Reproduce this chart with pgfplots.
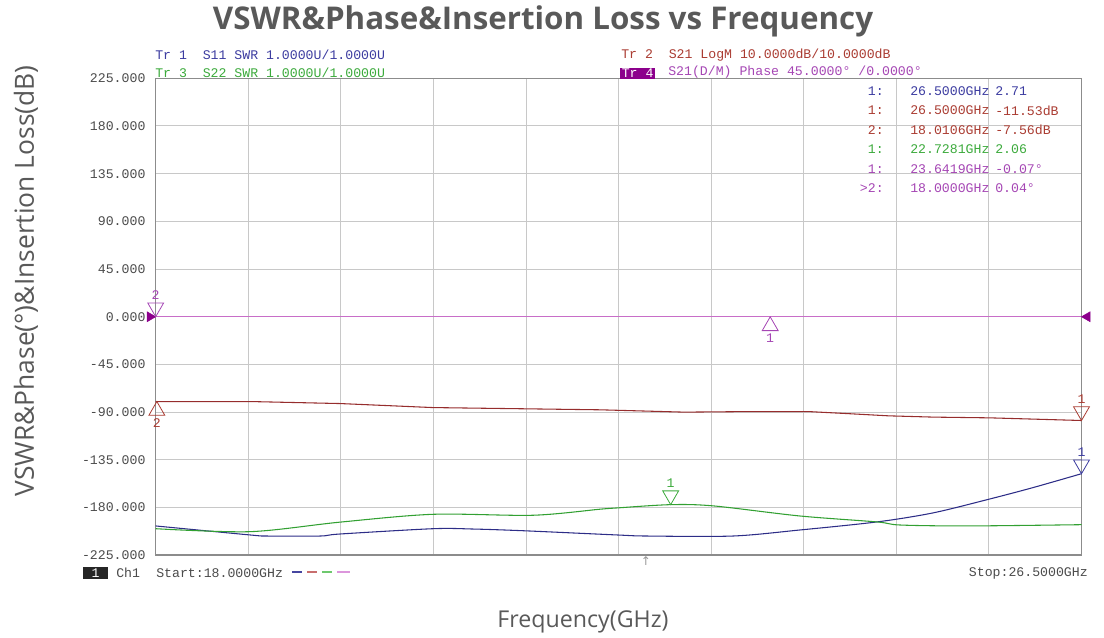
\documentclass[border=0pt]{standalone}
\usepackage{pgfplots}
\pgfplotsset{compat=1.18}
\usepackage{fontspec}
\setmainfont{Open Sans}
\newfontfamily\vna{Liberation Mono}
\newfontfamily\symf{DejaVu Sans}
\definecolor{gridc}{RGB}{200,200,200}
\definecolor{framec}{RGB}{140,140,140}
\definecolor{tickc}{RGB}{75,75,75}
\definecolor{labc}{RGB}{89,89,89}
\definecolor{tblue}{RGB}{45,45,135}
\definecolor{tred}{RGB}{150,45,45}
\definecolor{tgreen}{RGB}{50,160,50}
\definecolor{tpurp}{RGB}{200,110,200}
\definecolor{xblue}{RGB}{60,60,160}
\definecolor{xred}{RGB}{170,60,50}
\definecolor{xgreen}{RGB}{60,170,60}
\definecolor{xpurp}{RGB}{165,70,180}
\definecolor{mpurp}{RGB}{140,0,140}
\newcommand{\vf}{\vna\fontsize{9.9}{11}\selectfont}

\pgfplotstableread{
f v
18.000 0
26.500 0
}\purpdata
\pgfplotstableread{
f v
18.000 -80.0
18.866 -80.0
19.692 -81.9
20.546 -85.7
22.079 -87.8
22.850 -90.0
23.430 -89.5
24.000 -89.5
24.390 -91.6
24.730 -93.5
25.140 -94.7
25.660 -95.4
26.500 -97.9
}\reddata
\pgfplotstableread{
f v
18.000 -197.4
18.866 -205.9
19.022 -206.9
19.509 -206.9
19.692 -205.0
20.546 -200.0
20.913 -200.3
21.372 -201.9
22.235 -205.9
22.511 -206.9
23.300 -206.9
23.915 -201.2
24.622 -193.6
25.136 -185.1
25.660 -171.9
26.055 -161.2
26.500 -148.1
}\bluedata
\pgfplotstableread{
f v
18.000 -200.0
18.866 -202.8
19.692 -193.8
20.546 -186.4
21.464 -187.3
22.079 -181.6
22.235 -180.4
22.728 -177.3
23.123 -178.5
23.915 -188.0
24.622 -193.6
24.833 -196.5
25.448 -197.4
26.500 -196.2
}\greendata

\pgfplotsset{
  mkdown/.style 2 args={color=#1, only marks, mark=triangle, mark size=6.9pt,
    mark options={solid, yshift=6.9pt, rotate=180, line width=0.6pt},
    nodes near coords={#2}, nodes near coords align={anchor=center},
    every node near coord/.style={anchor=center, yshift=9pt, font=\vf, text=#1, inner sep=0pt}},
  mkup/.style 2 args={color=#1, only marks, mark=triangle, mark size=6.9pt,
    mark options={solid, yshift=-6.9pt, line width=0.6pt},
    nodes near coords={#2}, nodes near coords align={anchor=center},
    every node near coord/.style={anchor=center, yshift=-9pt, font=\vf, text=#1, inner sep=0pt}},
}

\begin{document}
\begin{tikzpicture}
\useasboundingbox (0,0) rectangle (828pt,477.75pt);
\begin{axis}[
  at={(116.775pt,61.35pt)}, anchor=south west, scale only axis,
  width=694.35pt, height=357.675pt,
  xmin=18, xmax=26.5, ymin=-225, ymax=225,
  xtick={18.85,19.7,20.55,21.4,22.25,23.1,23.95,24.8,25.65},
  xticklabels={},
  ytick={-225,-180,-135,-90,-45,0,45,90,135,180,225},
  yticklabels={-225.000,-180.000,-135.000,-90.000,-45.000,0.000,45.000,90.000,135.000,180.000,225.000},
  yticklabel style={font=\vf, text=tickc, inner sep=0pt, anchor=east, xshift=-7.5pt},
  major tick length=0pt,
  grid=major, grid style={draw=gridc, line width=0.75pt},
  axis line style={draw=framec, line width=1.1pt},
  clip=false,
]
\addplot[tpurp, line width=1pt] table[x=f,y=v] {\purpdata};
\addplot[tred, line width=0.8pt] table[x=f,y=v] {\reddata};
\addplot[tblue, line width=0.8pt, smooth] table[x=f,y=v] {\bluedata};
\addplot[tgreen, line width=0.8pt, smooth] table[x=f,y=v] {\greendata};
% reference level arrows
\addplot[mpurp, only marks, mark=triangle*, mark size=4.3pt, mark options={xshift=-4.3pt, rotate=-90}] coordinates {(18,0)};
\addplot[mpurp, only marks, mark=triangle*, mark size=4.3pt, mark options={xshift=4.3pt, rotate=90}] coordinates {(26.5,0)};
% markers
\addplot[mkdown={xpurp}{2}] coordinates {(18.0,0.04)};
\addplot[mkup={xpurp}{1}] coordinates {(23.6419,-0.07)};
\addplot[mkup={xred}{2}] coordinates {(18.0106,-80.0)};
\addplot[mkdown={xred}{1}] coordinates {(26.5,-97.9)};
\addplot[mkdown={xblue}{1}] coordinates {(26.5,-148.1)};
\addplot[mkdown={xgreen}{1}] coordinates {(22.7281,-177.3)};
\end{axis}
\begin{scope}[x=0.75pt,y=-0.75pt,yshift=477.75pt]
% title and labels
\node[font=\bfseries\fontsize{23.5}{27}\selectfont, text=labc] at (543,21) {VSWR\&Phase\&Insertion Loss vs Frequency};
\node[rotate=90, font=\fontsize{19.8}{22}\selectfont, text=labc] at (26,281) {VSWR\&Phase(°)\&Insertion Loss(dB)};
\node[font=\fontsize{17.4}{20}\selectfont, text=labc] at (583,622) {Frequency(GHz)};
% header
\node[anchor=west, inner sep=0pt, font=\vf, text=xblue] at (155,55.2) {Tr~1~~S11 SWR 1.0000U/1.0000U};
\node[anchor=west, inner sep=0pt, font=\vf, text=xgreen] at (155,72.4) {Tr~3~~S22 SWR 1.0000U/1.0000U};
\node[anchor=west, inner sep=0pt, font=\vf, text=xred] at (621,55.2) {Tr~2~~S21 LogM 10.0000dB/10.0000dB};
\node[anchor=west, inner sep=0pt, fill=mpurp, minimum width=26pt, minimum height=8.2pt, font=\vf, text=white] at (620,73.6) {Tr~4};
\node[anchor=west, inner sep=0pt, font=\vf, text=xpurp] at (668,72.4) {S21(D/M) Phase 45.0000°~/0.0000°};
% marker table
\foreach \y/\i/\fr/\val/\c in {91/1:/26.5000GHz/2.71/xblue, 110.5/1:/26.5000GHz/-11.53dB/xred, 130/2:/18.0106GHz/-7.56dB/xred, 149.5/1:/22.7281GHz/2.06/xgreen, 169/1:/23.6419GHz/-0.07°/xpurp, 188.5/>2:/18.0000GHz/0.04°/xpurp}{
  \node[anchor=east, inner sep=0pt, font=\vf, text=\c] at (884,\y) {\i};
  \node[anchor=west, inner sep=0pt, font=\vf, text=\c] at (910,\y) {\fr};
  \node[anchor=west, inner sep=0pt, font=\vf, text=\c] at (995,\y) {\val};
}
% bottom status line
\node[fill=black!85, text=white, inner sep=0pt, minimum width=18.75pt, minimum height=9.5pt, font=\vf] at (95.5,573) {1};
\node[anchor=west, inner sep=0pt, font=\vf, text=tickc] at (116,573) {Ch1};
\node[anchor=west, inner sep=0pt, font=\vf, text=tickc] at (156,573) {Start:18.0000GHz};
\draw[draw={rgb,255:red,70;green,70;blue,160}, line width=1pt] (292,572)--(302,572);
\draw[draw={rgb,255:red,200;green,110;blue,110}, line width=1pt] (307,572)--(317,572);
\draw[draw={rgb,255:red,110;green,200;blue,110}, line width=1pt] (322,572)--(332,572);
\draw[draw={rgb,255:red,220;green,150;blue,220}, line width=1pt] (337,572)--(350,572);
\node[anchor=east, inner sep=0pt, font=\vf, text=tickc] at (1088,573) {Stop:26.5000GHz};
\node[inner sep=0pt, font=\symf\fontsize{9}{9}\selectfont, text=black!40] at (646,561) {↑};
\end{scope}
\end{tikzpicture}
\end{document}
